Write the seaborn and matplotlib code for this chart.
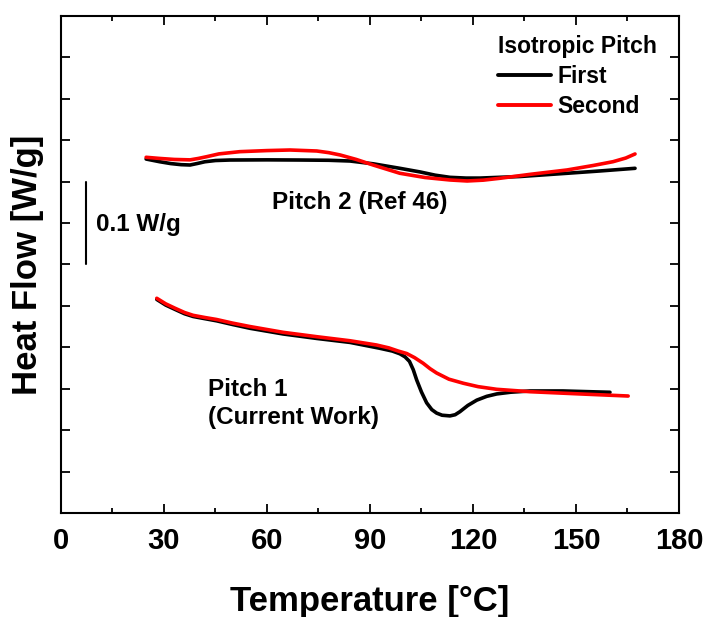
import numpy as np
import pandas as pd
import matplotlib
matplotlib.use("Agg")
import matplotlib.pyplot as plt
import seaborn as sns
from matplotlib.ticker import MultipleLocator, NullFormatter

# Pitch 2 (Ref 46) - first and second scans
p2_first_T = [24.8, 28.8, 32.0, 35.0, 37.6, 39.8, 41.9, 45.0, 49.2, 60.0, 69.6, 78.0, 84.2, 91.0, 98.7, 104.6, 109.0, 113.3, 118.0, 122.0, 133.7, 147.4, 157.0, 167.2]
p2_first_H = [0.4273, 0.4240, 0.4218, 0.4205, 0.4201, 0.4220, 0.4240, 0.4255, 0.4261, 0.4263, 0.4261, 0.4258, 0.4249, 0.4215, 0.4161, 0.4117, 0.4078, 0.4052, 0.4043, 0.4043, 0.4062, 0.4101, 0.4129, 0.4161]
p2_second_T = [24.8, 28.8, 33.0, 37.6, 40.0, 42.4, 46.0, 52.1, 60.0, 66.7, 74.5, 78.0, 81.3, 86.0, 90.9, 98.7, 106.0, 113.3, 118.3, 123.0, 127.9, 137.0, 147.4, 155.0, 160.8, 164.5, 167.2]
p2_second_H = [0.4294, 0.4280, 0.4268, 0.4263, 0.4280, 0.4301, 0.4335, 0.4362, 0.4375, 0.4382, 0.4370, 0.4350, 0.4322, 0.4268, 0.4201, 0.4101, 0.4050, 0.4020, 0.4008, 0.4018, 0.4041, 0.4090, 0.4141, 0.4195, 0.4241, 0.4285, 0.4334]

# Pitch 1 (Current Work) - first and second scans
p1_first_T = [27.9, 30.5, 33.2, 36.0, 38.5, 42.0, 45.3, 50.0, 55.0, 64.7, 74.5, 84.2, 92.9, 96.5, 98.7, 100.2, 101.5, 102.6, 103.6, 105.0, 106.5, 108.0, 109.4, 111.0, 113.3, 114.8, 116.2, 118.5, 121.1, 124.0, 126.9, 131.0, 136.6, 146.2, 159.9]
p1_first_H = [0.2578, 0.2510, 0.2458, 0.2405, 0.2372, 0.2345, 0.2320, 0.2275, 0.2230, 0.2161, 0.2107, 0.2059, 0.1988, 0.1955, 0.1922, 0.1885, 0.1830, 0.1730, 0.1606, 0.1460, 0.1330, 0.1248, 0.1206, 0.1180, 0.1172, 0.1186, 0.1223, 0.1298, 0.1362, 0.1408, 0.1437, 0.1458, 0.1473, 0.1473, 0.1457]
p1_second_T = [27.9, 30.5, 33.2, 36.0, 38.5, 42.0, 45.3, 50.0, 55.0, 64.7, 74.5, 84.2, 91.9, 95.5, 98.2, 100.7, 103.0, 105.5, 107.5, 109.4, 113.0, 117.2, 121.5, 126.9, 136.6, 151.2, 165.2]
p1_second_H = [0.2592, 0.2525, 0.2472, 0.2420, 0.2386, 0.2359, 0.2336, 0.2292, 0.2251, 0.2181, 0.2128, 0.2079, 0.2028, 0.1993, 0.1955, 0.1925, 0.1875, 0.1807, 0.1742, 0.1690, 0.1615, 0.1566, 0.1525, 0.1493, 0.1464, 0.1437, 0.1412]

frames = []
for sample, scan, T, H in [("Pitch 2", "First", p2_first_T, p2_first_H),
                           ("Pitch 2", "Second", p2_second_T, p2_second_H),
                           ("Pitch 1", "First", p1_first_T, p1_first_H),
                           ("Pitch 1", "Second", p1_second_T, p1_second_H)]:
    frames.append(pd.DataFrame({"T": T, "H": H, "scan": scan, "sample": sample}))
df = pd.concat(frames, ignore_index=True)

sns.set_theme(style="ticks")
plt.rcParams["font.family"] = ["Liberation Sans", "DejaVu Sans"]
plt.rcParams["font.weight"] = "bold"
plt.rcParams["axes.labelweight"] = "bold"
plt.rcParams["text.color"] = "black"
plt.rcParams["axes.labelcolor"] = "black"
plt.rcParams["xtick.color"] = "black"
plt.rcParams["ytick.color"] = "black"

fig = plt.figure(figsize=(7.1, 6.17), dpi=100)
ax = fig.add_axes([0.0859, 0.1686, 0.8704, 0.8055])

sns.lineplot(data=df, x="T", y="H", hue="scan", units="sample", estimator=None,
             sort=False, palette={"First": "black", "Second": "red"},
             linewidth=2.6, ax=ax)

ax.set_xlim(0, 180)
ax.set_ylim(0, 0.6)
ax.xaxis.set_major_locator(MultipleLocator(30))
ax.xaxis.set_minor_locator(MultipleLocator(15))
ax.yaxis.set_major_locator(MultipleLocator(0.05))
ax.yaxis.set_major_formatter(NullFormatter())
ax.tick_params(axis="both", which="major", direction="in", length=6.5, width=1.3,
               top=True, right=True, labelsize=21, pad=10)
ax.tick_params(axis="x", which="minor", direction="in", length=3.5, width=1.3, top=True)
for sp in ax.spines.values():
    sp.set_linewidth(1.5)
    sp.set_color("black")

ax.set_xlabel("Temperature [°C]", fontsize=25, labelpad=22)
ax.set_ylabel("Heat Flow [W/g]", fontsize=25, labelpad=2)

# scale bar
ax.plot([7.3, 7.3], [0.3, 0.4], color="black", lw=1.5)
ax.text(10.2, 0.348, "0.1 W/g", fontsize=17.5, fontweight="bold", va="center", ha="left")

ax.text(61.5, 0.375, "Pitch 2 (Ref 46)", fontsize=17.5, fontweight="bold", va="center", ha="left")
ax.text(42.9, 0.132, "Pitch 1\n(Current Work)", fontsize=17.5, fontweight="bold",
        va="center", ha="left", linespacing=1.3)

handles, labels = ax.get_legend_handles_labels()
leg = ax.legend(handles, labels, title="Isotropic Pitch", loc="upper left",
                bbox_to_anchor=(0.707, 0.962), frameon=False, fontsize=16.5,
                title_fontproperties={"size": 16.5, "weight": "bold"},
                handlelength=2.3, handletextpad=0.3, labelspacing=0.3,
                borderpad=0, borderaxespad=0)
leg._legend_box.align = "left"
for line in leg.get_lines():
    line.set_linewidth(2.8)

fig.savefig("out.png", dpi=100)
